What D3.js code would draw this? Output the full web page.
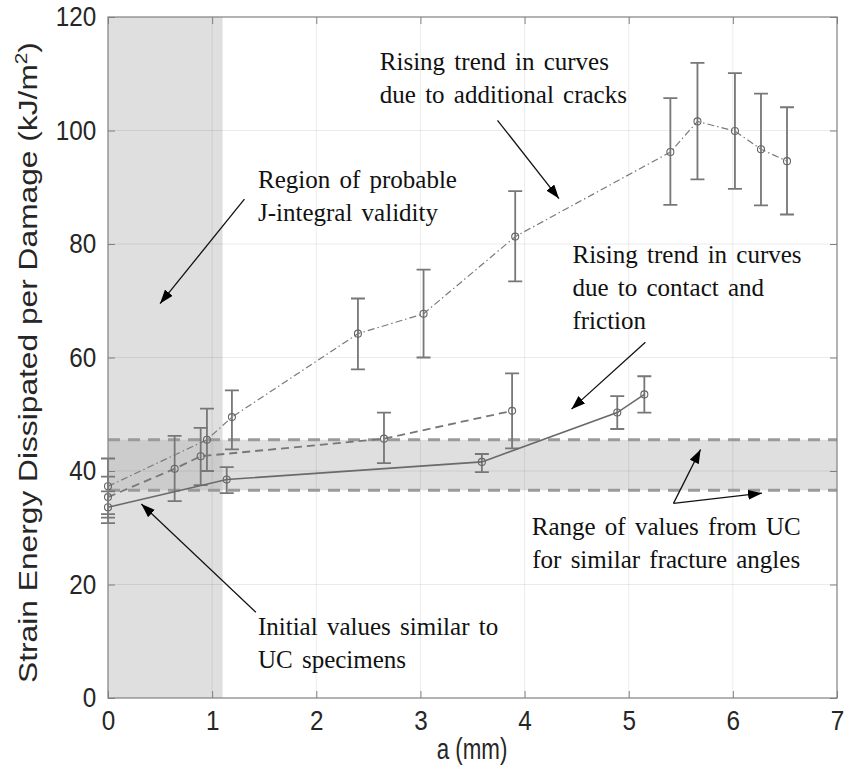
<!DOCTYPE html>
<html>
<head>
<meta charset="utf-8">
<script src="https://cdn.jsdelivr.net/npm/d3@7"></script>
<style>
	body{margin:0; background:#fff;}
	svg{display:block;}
</style>
</head>
<body>
<div class="container"></div>
<script>
//crack length a (mm) and energy values
const crackA = [0, 0.95, 1.19, 2.40, 3.03, 3.91, 5.40, 5.66, 6.02, 6.27, 6.52];
const crackV = [37.3, 45.5, 49.5, 64.2, 67.7, 81.3, 96.2, 101.6, 99.9, 96.7, 94.6];
const crackLo = [32.4, 40.0, 43.8, 57.9, 60.0, 73.4, 86.9, 91.4, 89.7, 86.8, 85.2];
const crackHi = [42.2, 51.0, 54.2, 70.4, 75.5, 89.3, 105.7, 111.9, 110.1, 106.5, 104.1];

const contactA = [0, 0.64, 0.89, 2.65, 3.88];
const contactV = [35.4, 40.4, 42.6, 45.7, 50.6];
const contactLo = [31.8, 34.7, 37.5, 41.4, 44.0];
const contactHi = [39.0, 46.2, 47.6, 50.3, 57.2];

const initialA = [0, 1.14, 3.59, 4.89, 5.15];
const initialV = [33.6, 38.5, 41.6, 50.3, 53.5];
const initialLo = [30.8, 36.1, 39.8, 47.4, 50.3];
const initialHi = [36.4, 40.7, 43.0, 53.2, 56.7];

//shaded regions
const jRegion = [0, 1.10];        //a range
const ucBand = [36.6, 45.5];      //energy range from UC specimens

const xTicks = [0, 1, 2, 3, 4, 5, 6, 7];
const yTicks = [0, 20, 40, 60, 80, 100, 120];

//annotations: text lines, anchor in data units
const notes = [
	{lines:['Rising trend in curves', 'due to additional cracks'], a:2.61, v:110.6, anchor:'start'},
	{lines:['Region of probable', 'J-integral validity'], a:1.44, v:89.8, anchor:'start'},
	{lines:['Rising trend in curves', 'due to contact and', 'friction'], a:4.46, v:76.6, anchor:'start'},
	{lines:['Range of values from UC', 'for similar fracture angles'], a:5.36, v:28.7, anchor:'middle'},
	{lines:['Initial values similar to', 'UC specimens'], a:1.44, v:11.1, anchor:'start'}
];
const arrows = [
	{from:[3.74, 101.8], to:[4.33, 88.0]},
	{from:[1.31, 87.9], to:[0.50, 69.5]},
	{from:[5.16, 62.7], to:[4.45, 50.9]},
	{from:[5.43, 34.3], to:[5.69, 43.8]},
	{from:[5.43, 34.3], to:[6.28, 36.1]},
	{from:[1.42, 15.1], to:[0.32, 34.2]}
];

const W = 852, H = 773;
const margin = {t:17, r:15, b:75, l:108};
const w = W - margin.l - margin.r;
const h = H - margin.t - margin.b;

const svg = d3.select('.container')
	.append('svg')
	.attr('width', W)
	.attr('height', H);

const plot = svg.append('g')
	.attr('transform', `translate(${margin.l}, ${margin.t})`);

const x = d3.scaleLinear().domain([0, 7]).range([0, w]);
const y = d3.scaleLinear().domain([0, 120]).range([h, 0]);

//shaded patches
plot.append('rect')
	.attr('x', x(jRegion[0]))
	.attr('y', 0)
	.attr('width', x(jRegion[1]) - x(jRegion[0]))
	.attr('height', h)
	.style('fill', '#b0b0b0')
	.style('fill-opacity', 0.4);
plot.append('rect')
	.attr('x', 0)
	.attr('y', y(ucBand[1]))
	.attr('width', w)
	.attr('height', y(ucBand[0]) - y(ucBand[1]))
	.style('fill', '#b0b0b0')
	.style('fill-opacity', 0.4);

//grid
plot.append('g').selectAll('line')
	.data(xTicks.slice(1, -1))
	.enter()
	.append('line')
	.attr('x1', function(d){ return x(d) })
	.attr('x2', function(d){ return x(d) })
	.attr('y1', 0)
	.attr('y2', h)
	.style('stroke', '#000')
	.style('stroke-opacity', 0.08);
plot.append('g').selectAll('line')
	.data(yTicks.slice(1, -1))
	.enter()
	.append('line')
	.attr('x1', 0)
	.attr('x2', w)
	.attr('y1', function(d){ return y(d) })
	.attr('y2', function(d){ return y(d) })
	.style('stroke', '#000')
	.style('stroke-opacity', 0.08);

//band edges
plot.append('g').selectAll('line')
	.data(ucBand)
	.enter()
	.append('line')
	.attr('x1', 0)
	.attr('x2', w)
	.attr('y1', function(d){ return y(d) })
	.attr('y2', function(d){ return y(d) })
	.style('stroke', '#9a9a9a')
	.style('stroke-width', 3)
	.style('stroke-dasharray', '12 8');

//series
const series = [
	{a:crackA, v:crackV, lo:crackLo, hi:crackHi, dash:'7 3 1.5 3', width:1.2, color:'#7a7a7a'},
	{a:contactA, v:contactV, lo:contactLo, hi:contactHi, dash:'8 5', width:1.8, color:'#777'},
	{a:initialA, v:initialV, lo:initialLo, hi:initialHi, dash:null, width:1.6, color:'#6a6a6a'}
];

const line = d3.line()
	.x(function(d){ return x(d.a) })
	.y(function(d){ return y(d.v) });

series.forEach(function(s){
	const pts = s.a.map(function(a, i){
		return {a:a, v:s.v[i], lo:s.lo[i], hi:s.hi[i]};
	});
	const g = plot.append('g');

	g.selectAll('.err')
		.data(pts)
		.enter()
		.append('path')
		.attr('class', 'err')
		.attr('d', function(d){
			const px = x(d.a), y0 = y(d.lo), y1 = y(d.hi);
			return `M${px},${y0}V${y1}M${px-7},${y1}H${px+7}M${px-7},${y0}H${px+7}`;
		})
		.style('fill', 'none')
		.style('stroke', '#777')
		.style('stroke-width', 1.8);

	g.append('path')
		.datum(pts)
		.attr('d', line)
		.style('fill', 'none')
		.style('stroke', s.color)
		.style('stroke-width', s.width)
		.style('stroke-dasharray', s.dash);

	g.selectAll('circle')
		.data(pts)
		.enter()
		.append('circle')
		.attr('cx', function(d){ return x(d.a) })
		.attr('cy', function(d){ return y(d.v) })
		.attr('r', 3.5)
		.style('fill', 'none')
		.style('stroke', '#666')
		.style('stroke-width', 1.1);
});

//axes box and inward ticks
plot.append('rect')
	.attr('width', w)
	.attr('height', h)
	.style('fill', 'none')
	.style('stroke', '#808080')
	.style('stroke-width', 1.2);

plot.append('g')
	.attr('transform', `translate(0, ${h})`)
	.call(d3.axisBottom(x).tickValues(xTicks).tickFormat(d3.format('d'))
		.tickSizeInner(-7).tickSizeOuter(0).tickPadding(13));
plot.append('g')
	.call(d3.axisLeft(y).tickValues(yTicks).tickFormat(d3.format('d'))
		.tickSizeInner(-7).tickSizeOuter(0).tickPadding(13));
plot.append('g')
	.attr('transform', `translate(${w}, 0)`)
	.call(d3.axisRight(y).tickValues(yTicks).tickSizeInner(-7).tickSizeOuter(0).tickFormat(''));
plot.append('g')
	.call(d3.axisTop(x).tickValues(xTicks).tickSizeInner(-7).tickSizeOuter(0).tickFormat(''));

plot.selectAll('.domain').remove();
plot.selectAll('.tick line').style('stroke', '#808080');
//labels in the figure look slightly condensed
plot.selectAll('.tick text')
	.attr('transform', 'scale(0.9, 1)')
	.style('font-family', '"Liberation Sans", Arial, sans-serif')
	.style('font-size', '27px')
	.style('fill', '#262626');

//axis labels
svg.append('text')
	.attr('transform', 'translate(472, 759) scale(0.77, 1)')
	.attr('text-anchor', 'middle')
	.style('font-family', '"Liberation Sans", Arial, sans-serif')
	.style('font-size', '29px')
	.style('fill', '#262626')
	.text('a (mm)');

const yLabel = svg.append('text')
	.attr('transform', `translate(37, ${margin.t + h/2 + 5}) rotate(-90) scale(1.22, 1)`)
	.attr('text-anchor', 'middle')
	.style('font-family', '"Liberation Sans", Arial, sans-serif')
	.style('font-size', '26px')
	.style('fill', '#262626');
yLabel.append('tspan').text('Strain Energy Dissipated per Damage (kJ/m');
yLabel.append('tspan').attr('dy', -10).style('font-size', '17px').text('2');
yLabel.append('tspan').attr('dy', 10).text(')');

//annotation arrows
svg.append('defs').append('marker')
	.attr('id', 'head')
	.attr('viewBox', '0 0 14 10')
	.attr('refX', 14)
	.attr('refY', 5)
	.attr('markerWidth', 14)
	.attr('markerHeight', 10)
	.attr('markerUnits', 'userSpaceOnUse')
	.attr('orient', 'auto')
	.append('path')
	.attr('d', 'M0,0L14,5L0,10Z')
	.style('fill', '#000');

plot.selectAll('.arrow')
	.data(arrows)
	.enter()
	.append('line')
	.attr('class', 'arrow')
	.attr('x1', function(d){ return x(d.from[0]) })
	.attr('y1', function(d){ return y(d.from[1]) })
	.attr('x2', function(d){ return x(d.to[0]) })
	.attr('y2', function(d){ return y(d.to[1]) })
	.style('stroke', '#111')
	.style('stroke-width', 1.3)
	.attr('marker-end', 'url(#head)');

//annotation texts
const noteG = plot.selectAll('.note')
	.data(notes)
	.enter()
	.append('text')
	.attr('class', 'note')
	.attr('text-anchor', function(d){ return d.anchor })
	.style('font-family', '"Liberation Serif", "Times New Roman", serif')
	.style('font-size', '25px')
	.style('fill', '#111')
	.style('word-spacing', '3px');

noteG.each(function(d){
	const t = d3.select(this);
	d.lines.forEach(function(l, i){
		t.append('tspan')
			.attr('x', x(d.a))
			.attr('y', y(d.v) + i*33)
			.text(l);
	});
});
</script>
</body>
</html>
